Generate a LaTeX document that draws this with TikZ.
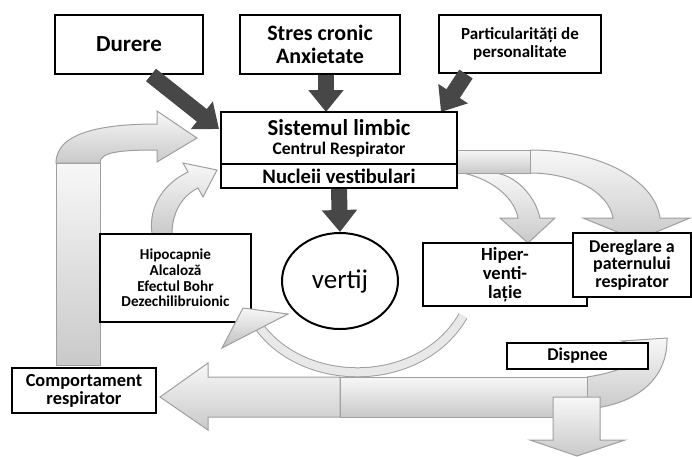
\documentclass[tikz,border=0pt]{standalone}
\usepackage{fontspec}
\setmainfont{Carlito}
\usetikzlibrary{arrows.meta, calc, shapes.geometric}

\begin{document}
\begin{tikzpicture}[>=latex, x=0.5pt, y=-0.5pt, font=\bfseries,
  box/.style={draw, line width=1pt, fill=white, inner sep=0pt, align=center},
  darkarrow/.style={draw=black!72, line width=8pt, -{Triangle[width=17pt, length=11pt]}},
  lightarrow/.style={draw=gray!75, line width=0.5pt, top color=gray!6, bottom color=gray!42}]

\useasboundingbox (0,0) rectangle (692,456);

\node[box, minimum width=74pt, minimum height=29.5pt, font=\bfseries\fontsize{11.5}{12}\selectfont] (durere) at (129,44.5) {Durere};
\node[box, minimum width=80pt, minimum height=29.5pt, font=\bfseries\fontsize{11}{11.5}\selectfont] (stres) at (320,44.5) {Stres cronic\\Anxietate};
\node[box, minimum width=81pt, minimum height=29pt, font=\bfseries\fontsize{8.5}{9}\selectfont] (partic) at (520,44) {Particularități de\\personalitate};

\draw[darkarrow] ($(durere.south)+(22,0)$) -- (219,129);
\draw[darkarrow] ($(stres.south)+(6,0)$) -- (326,112);
\draw[darkarrow] ($(partic.south west)+(28,0)$) -- (441,112);

% brate stanga
\shade[lightarrow] (56,163) rectangle (100,365);
\shade[lightarrow] (56,163) .. controls (56,130) and (110,124) .. (157,124) -- (157,111) -- (197,138) -- (157,162) -- (157,150) .. controls (120,150) and (100,152) .. (100,163) -- cycle;
\shade[lightarrow] (152,234) .. controls (148,205) and (165,183) .. (188,172) -- (183,163) -- (217,170) -- (203,197) -- (198,188) .. controls (180,197) and (172,215) .. (172,234) -- cycle;

% brate dreapta sus
\shade[lightarrow] (463,173) .. controls (495,180) and (515,200) .. (518,218) -- (500,218) -- (528,243) -- (555,218) -- (540,218) .. controls (535,195) and (515,175) .. (495,173) -- cycle;
\shade[lightarrow] (530,150) .. controls (600,150) and (655,180) .. (660,218) -- (690,218) -- (637,240) -- (583,218) -- (613,218) .. controls (608,190) and (570,173) .. (530,173) -- cycle;
\shade[lightarrow] (457,150) rectangle (530,173);

\node[box, minimum width=118pt, minimum height=26pt, font=\bfseries\fontsize{11.4}{10.5}\selectfont] (limbic) at (339,138) {Sistemul limbic\\[-1pt]{\fontsize{8.8}{9}\selectfont Centrul Respirator}};
\node[box, minimum width=118pt, minimum height=12pt, font=\bfseries\fontsize{10.3}{10}\selectfont] (nucleii) at (339,176) {Nucleii vestibulari};

\node[box, ellipse, minimum width=58pt, minimum height=48pt, font=\fontsize{13.5}{14}\selectfont] (vertij) at (340,281) {vertij};
\draw[darkarrow] (nucleii.south) -- (vertij.north);

\node[box, minimum width=75.5pt, minimum height=44pt, font=\bfseries\fontsize{7.6}{7.9}\selectfont] (hipo) at (175.5,278) {Hipocapnie\\Alcaloză\\Efectul Bohr\\Dezechilibruionic};
\node[box, minimum width=82pt, minimum height=31.5pt, font=\bfseries\fontsize{9.3}{9.5}\selectfont] (hiper) at (505,274.5) {Hiper-\\venti-\\lație};
\node[box, minimum width=59pt, minimum height=32pt, font=\bfseries\fontsize{9}{8.8}\selectfont] (dereg) at (632,265) {Dereglare a\\paternului\\respirator};

% arc sub vertij
\draw[gray!75, line width=5pt] (463,316) .. controls (420,390) and (300,390) .. (256,322);
\draw[gray!18, line width=4pt] (463,316) .. controls (420,390) and (300,390) .. (256,322);
\shade[lightarrow, bottom color=gray!50] (243,308) -- (288,314) -- (222,348) -- cycle;

% brate jos
\shade[lightarrow] (622,341) -- (667,338) .. controls (668,380) and (635,405) .. (587,409) -- (587,377) .. controls (620,372) and (640,362) .. (648,350) -- cycle;
\shade[lightarrow] (340,377) rectangle (587,417);
\shade[lightarrow] (340,377) -- (208,377) -- (208,363) -- (160,397) -- (208,430) -- (208,417) -- (340,417) -- cycle;
\shade[lightarrow] (553,397) -- (600,397) -- (600,440) -- (625,440) -- (577,456) -- (530,440) -- (553,440) -- cycle;

\node[box, minimum width=70.5pt, minimum height=13pt, font=\bfseries\fontsize{9}{9}\selectfont] (dispnee) at (577.5,356) {Dispnee};
\node[box, minimum width=72pt, minimum height=22.5pt, font=\bfseries\fontsize{9.2}{9}\selectfont] (comport) at (84,390.5) {Comportament\\respirator};

\end{tikzpicture}
\end{document}
